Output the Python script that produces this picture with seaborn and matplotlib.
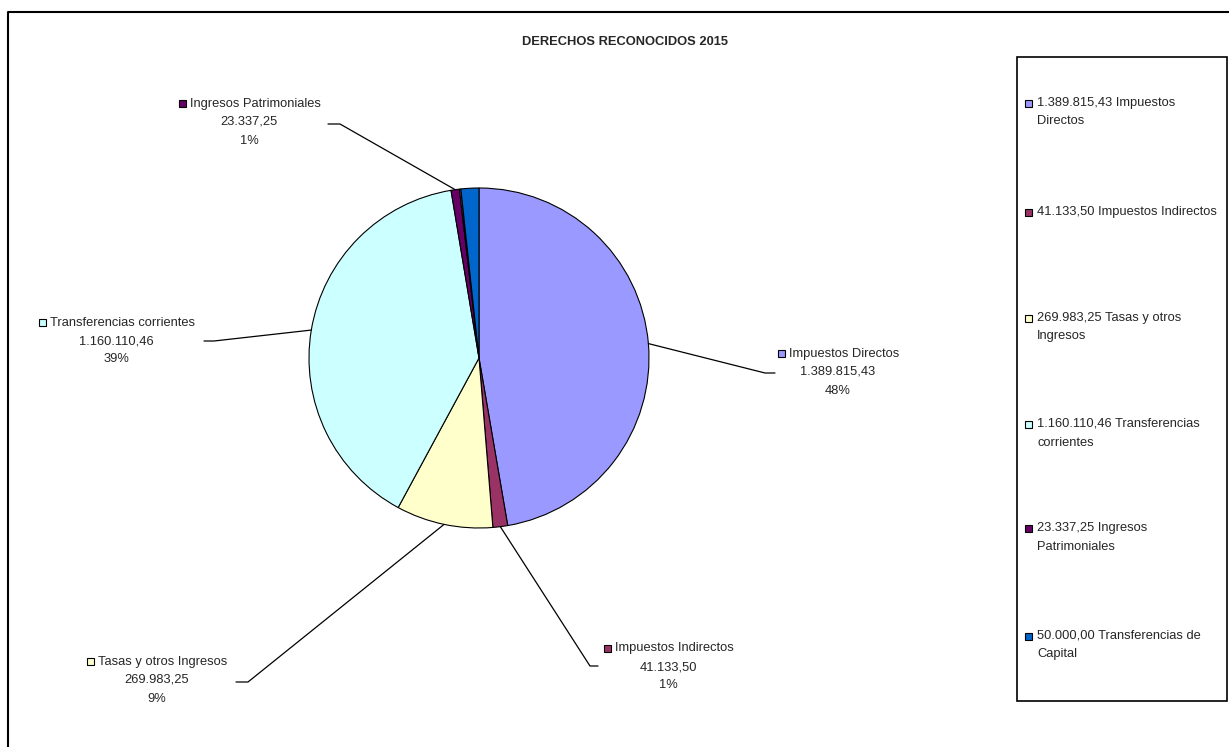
import matplotlib
matplotlib.use("Agg")
import matplotlib.pyplot as plt
from matplotlib.patches import Rectangle
import seaborn as sns
import numpy as np

# ---------------- data ----------------
categories = ["Impuestos Directos", "Impuestos Indirectos", "Tasas y otros Ingresos",
              "Transferencias corrientes", "Ingresos Patrimoniales", "",
              "Transferencias de Capital"]
values = [1389815.43, 41133.50, 269983.25, 1160110.46, 23337.25, 4000.0, 50000.00]
pct_labels = ["48%", "1%", "9%", "39%", "1%", "", ""]
hex_colors = ["#9999FF", "#993366", "#FFFFCC", "#CCFFFF", "#660066", "#FF8080", "#0066CC"]
legend_labels = ["1.389.815,43 Impuestos\nDirectos",
                 "41.133,50 Impuestos Indirectos",
                 "269.983,25 Tasas y otros\nIngresos",
                 "1.160.110,46 Transferencias\ncorrientes",
                 "23.337,25 Ingresos\nPatrimoniales",
                 "50.000,00 Transferencias de\nCapital"]
legend_idx = [0, 1, 2, 3, 4, 6]
title = "DERECHOS RECONOCIDOS 2015"


def fmt_es(v):
    s = f"{v:,.2f}"
    return s.replace(",", "X").replace(".", ",").replace("X", ".")


sns.set_theme(style="white")
plt.rcParams["font.family"] = ["Liberation Sans", "DejaVu Sans"]
colors = sns.color_palette(hex_colors)

W, H = 1229, 747
fig = plt.figure(figsize=(W / 100, H / 100), dpi=100)
fig.patch.set_facecolor("white")
ax = fig.add_axes([0, 0, 1, 1])

cx, cy, R = 479, H - 358, 170
wedges, _ = ax.pie(values, colors=colors, startangle=90, counterclock=False,
                   center=(cx, cy), radius=R,
                   wedgeprops=dict(edgecolor="black", linewidth=0.8))
ax.set_xlim(0, W)
ax.set_ylim(0, H)
ax.axis("off")

# label layout (pixel positions from the top-left)
# (block centre x, middle line y, elbow x, elbow y, end x)
label_layout = {
    0: (838, 372, 765, 373, 775),
    1: (668, 667, 590, 666, 598),
    2: (157, 680, 248, 682, 236),
    3: (116, 341, 214, 341, 204),
    4: (249, 122, 340, 124, 328),
}
FS = 9.3
LS = 18.5
fig.canvas.draw()
renderer = fig.canvas.get_renderer()
for i, (bx, my, ex, ey, endx) in label_layout.items():
    w = wedges[i]
    th = np.deg2rad((w.theta1 + w.theta2) / 2)
    px, py = cx + R * np.cos(th), cy + R * np.sin(th)
    ax.plot([px, ex, endx], [py, H - ey, H - ey], color="black", lw=0.9, zorder=1)
    t1 = ax.text(bx + 6, H - (my - LS), categories[i], ha="center", va="center", fontsize=FS)
    ax.text(bx, H - my, fmt_es(values[i]), ha="center", va="center", fontsize=FS)
    ax.text(bx, H - (my + LS), pct_labels[i], ha="center", va="center", fontsize=FS)
    bb = t1.get_window_extent(renderer)
    ax.add_patch(Rectangle((bb.x0 - 11, H - (my - LS) - 3.5), 7, 7,
                           facecolor=colors[i], edgecolor="black", lw=0.8))

# title
ax.text(625, H - 42, title, ha="center", va="center", fontsize=FS, fontweight="bold")

# legend box
ax.add_patch(Rectangle((1017, H - 701), 210, 644, fill=False, edgecolor="black", lw=1.2))
leg_y = [103, 212, 318, 424, 528, 636]
for k, (i, lab) in enumerate(zip(legend_idx, legend_labels)):
    y0 = leg_y[k]
    ax.add_patch(Rectangle((1025, H - y0 - 3.5), 7, 7, facecolor=colors[i],
                           edgecolor="black", lw=0.8))
    for j, line in enumerate(lab.split("\n")):
        ax.text(1037, H - (y0 + j * LS), line, ha="left", va="center", fontsize=FS)

# outer chart frame (left & top edges visible)
ax.plot([8, 8, W], [0, H - 12, H - 12], color="black", lw=1.5, clip_on=False)

fig.savefig("out.png", dpi=100, facecolor="white")
